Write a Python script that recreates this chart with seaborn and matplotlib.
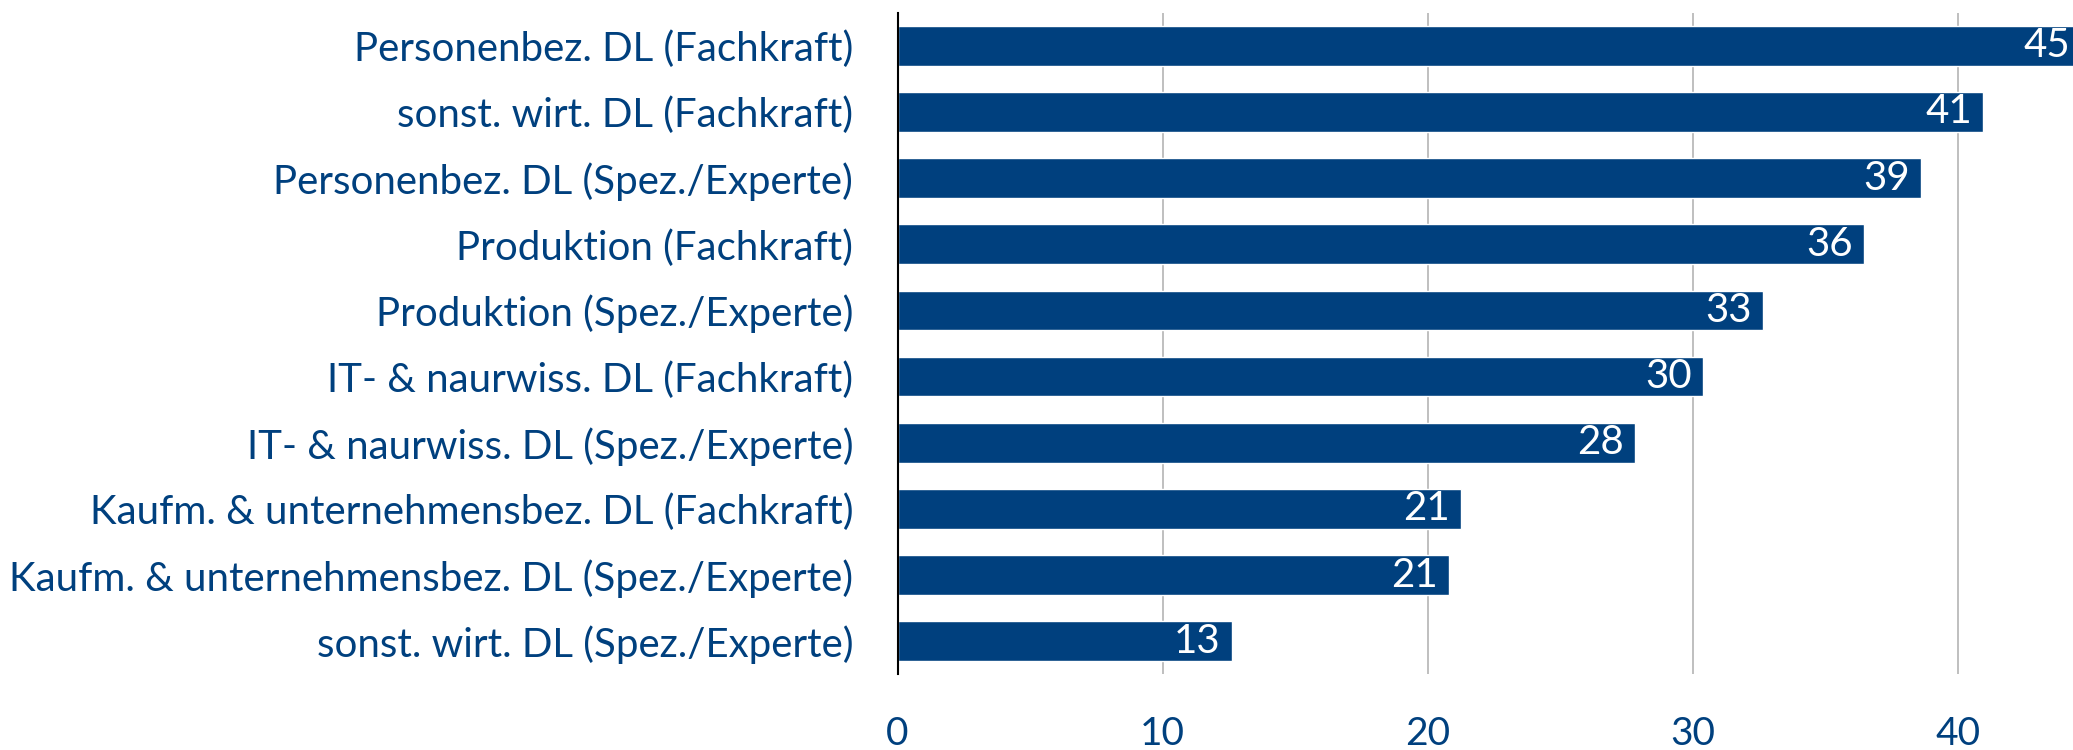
import numpy as np
import pandas as pd
import seaborn as sns
import matplotlib.pyplot as plt

categories = [
    'Personenbez. DL (Fachkraft)',
    'sonst. wirt. DL (Fachkraft)',
    'Personenbez. DL (Spez./Experte)',
    'Produktion (Fachkraft)',
    'Produktion (Spez./Experte)',
    'IT- & naurwiss. DL (Fachkraft)',
    'IT- & naurwiss. DL (Spez./Experte)',
    'Kaufm. & unternehmensbez. DL (Fachkraft)',
    'Kaufm. & unternehmensbez. DL (Spez./Experte)',
    'sonst. wirt. DL (Spez./Experte)',
]
values = [45.0, 40.95, 38.6, 36.45, 32.65, 30.4, 27.8, 21.25, 20.8, 12.6]
xticks = [0, 10, 20, 30, 40]

navy = '#00407E'

sns.set_style('white')
plt.rcParams['font.family'] = ['Lato', 'DejaVu Sans']

df = pd.DataFrame({'cat': categories, 'val': values})

fig = plt.figure(figsize=(20.73, 7.5), dpi=100)
ax = fig.add_axes([0.433, 0.101, 0.567, 0.882])

sns.barplot(data=df, x='val', y='cat', orient='h', color=navy, saturation=1,
            width=0.6, ax=ax, zorder=3)

xmax = 44.34
ax.set(xlim=(0, xmax), ylim=(9.5, -0.5), xlabel='', ylabel='')
ax.set_xticks(xticks)
ax.grid(axis='x', color='#b4b4b4', lw=1.2, zorder=0)
ax.grid(axis='y', visible=False)
for s in ['top', 'right', 'bottom']:
    ax.spines[s].set_visible(False)
ax.spines['left'].set_color('black')
ax.spines['left'].set_linewidth(1.5)
ax.spines['left'].set_zorder(5)

ax.tick_params(axis='y', length=0, pad=32, labelsize=29, labelcolor=navy)
ax.tick_params(axis='x', length=0, pad=30, labelsize=28, labelcolor=navy)

labels = ax.bar_label(ax.containers[0], fmt='%.0f', padding=-8, color='white', fontsize=29)
for t in labels:
    t.set_ha('right')
    t.set_va('center')
    t.set_zorder(6)
    t.set_annotation_clip(False)
    # bars running past the axis end get their label at the axis edge
    if t.xy[0] > xmax:
        t.xy = (xmax, t.xy[1])
        t.xyann = (-2, 0)

fig.savefig('out.png', dpi=100)
